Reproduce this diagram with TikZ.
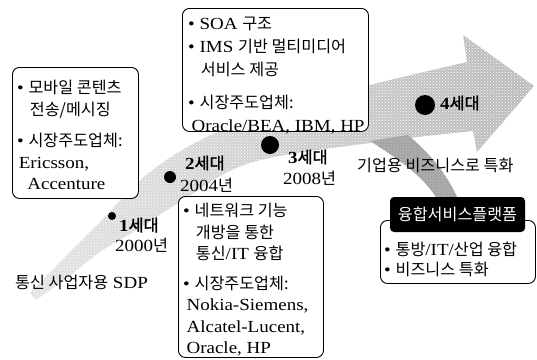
\documentclass[tikz,border=0pt]{standalone}
\usepackage{fontspec}
\setmainfont{Liberation Serif}[Scale=1.13, FakeStretch=1.12]
\newfontfamily\korf{Noto Sans CJK KR}[Scale=1.08]
\newfontfamily\korbf{Noto Sans CJK KR}[Scale=1.08, FakeBold=2]
\newcommand\kor[1]{{\korf #1}}
\newcommand\korb[1]{{\korbf #1}}
\usetikzlibrary{patterns}
\begin{document}
\begin{tikzpicture}[x=1pt,y=-1pt,
  box/.style={draw=black, line width=0.9pt, rounded corners=7pt, fill=white, inner sep=0pt},
  txt/.style={font=\fontsize{15}{21.5}\selectfont, align=left, inner sep=0pt, anchor=north west},
  lbl/.style={font=\fontsize{15}{17}\selectfont, inner sep=0pt, anchor=west},
  dot/.style={circle, fill=black, inner sep=0pt}]
\useasboundingbox (0,0) rectangle (537,359);
% main curved arrow
\path[left color=gray!22, right color=gray!55, postaction={pattern=crosshatch dots, pattern color=white}]
  (30,293) -- plot[smooth, tension=0.6] coordinates {(30,293) (67,255) (100,222) (150,172) (213,134) (290,108) (370,85) (467,62)}
  -- (463,35) -- (534,86) -- (477,152)
  -- plot[smooth, tension=0.6] coordinates {(473,131) (370,143) (250,163) (180,202) (140,228) (100,252) (67,278) (36,300)}
  -- cycle;
% branch arrow
\path[fill=gray!72, postaction={pattern=crosshatch dots, pattern color=gray!45}]
  (370,141) .. controls (400,160) and (425,178) .. (437,199) -- (458,199) .. controls (446,172) and (428,152) .. (408,135) -- cycle;
% generation dots
\node[dot, minimum size=8pt] (d1) at (112,216) {};
\node[dot, minimum size=12pt] (d2) at (170,177) {};
\node[dot, minimum size=18pt] (d3) at (270,145) {};
\node[dot, minimum size=20pt] (d4) at (425,105) {};
% labels
\node[lbl] (g1) at (119,225) {\textbf{1}\korb{세대}};
\node[lbl] (y1) at (115,245) {2000\kor{년}};
\node[lbl] (g2) at (185,163) {\textbf{2}\korb{세대}};
\node[lbl] (y2) at (180,185) {2004\kor{년}};
\node[lbl] (g3) at (288,157) {\textbf{3}\korb{세대}};
\node[lbl] (y3) at (283,178) {2008\kor{년}};
\node[lbl] (g4) at (440,103) {\textbf{4}\korb{세대}};
\node[lbl] (biz) at (357,165) {\kor{기업용 비즈니스로 특화}};
\node[lbl] (sdp) at (15,282) {\kor{통신 사업자용} SDP};
% box A
\node[box, anchor=north west, minimum width=126pt, minimum height=131pt] (boxA) at (12,67) {};
\node[txt] (tA) at (17,80) {\textbullet\ \kor{모바일 콘텐츠}\\
\hspace*{0.75em}\kor{전송/메시징}\\[10pt]
\textbullet\ \kor{시장주도업체:}\\
\hspace*{0.1em}Ericsson,\\
\hspace*{0.6em}Accenture};
% box B
\node[box, anchor=north west, minimum width=186pt, minimum height=123pt] (boxB) at (182,8) {};
\node[txt, font=\fontsize{15}{23}\selectfont] (tB) at (188,17) {\textbullet\ SOA \kor{구조}\\
\textbullet\ IMS \kor{기반 멀티미디어}\\
\hspace*{0.75em}\kor{서비스 제공}\\[10pt]
\textbullet\ \kor{시장주도업체:}\\
\hspace*{0.2em}Oracle/BEA, IBM, HP};
% box C
\node[box, anchor=north west, minimum width=145pt, minimum height=161pt] (boxC) at (178,196) {};
\node[txt] (tC) at (183,203) {\textbullet\ \kor{네트워크 기능}\\
\hspace*{0.75em}\kor{개방을 통한}\\
\hspace*{0.75em}\kor{통신}/IT \kor{융합}\\[8pt]
\textbullet\ \kor{시장주도업체:}\\
\hspace*{0.2em}Nokia-Siemens,\\
\hspace*{0.2em}Alcatel-Lucent,\\
\hspace*{0.2em}Oracle, HP};
% box D with dark title
\node[box, anchor=north west, minimum width=155pt, minimum height=63pt] (boxD) at (380,220) {};
\node[txt, font=\fontsize{15}{20}\selectfont] (tD) at (384,242) {\textbullet\ \kor{통방}/IT/\kor{산업 융합}\\
\textbullet\ \kor{비즈니스 특화}};
\node[fill=black, rounded corners=4pt, minimum width=135pt, minimum height=35pt, inner sep=0pt,
  text=white, font=\fontsize{15}{17}\selectfont] (plat) at (457.5,214.5) {\kor{융합서비스플랫폼}};
\end{tikzpicture}
\end{document}
